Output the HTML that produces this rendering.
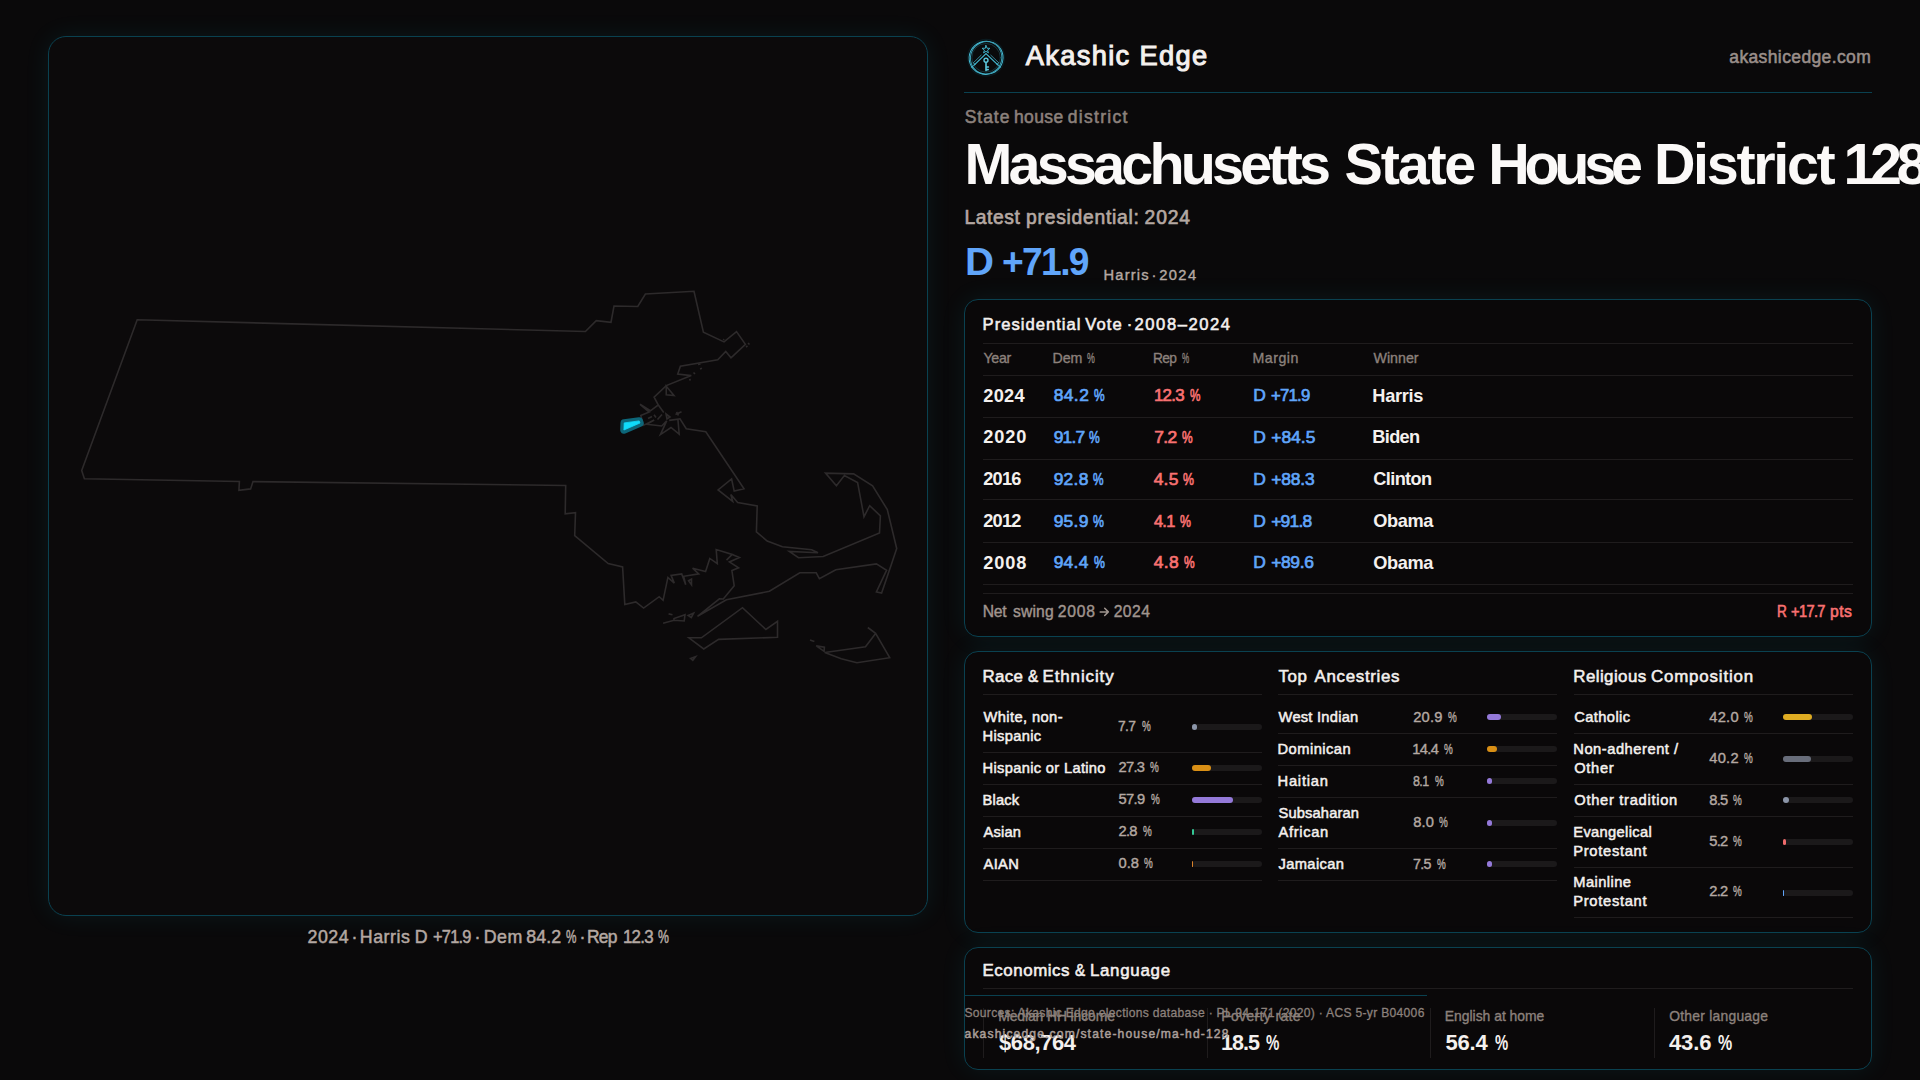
<!DOCTYPE html>
<html lang="en">
<head>
<meta charset="utf-8">
<title>Massachusetts State House District 128 · Akashic Edge</title>
<style>
*{box-sizing:border-box;margin:0;padding:0}
html,body{width:1920px;height:1080px;overflow:hidden;background:#0a090a}
body{position:relative;font-family:"Liberation Sans",sans-serif;color:#f4f0ee}
.t{position:absolute;white-space:nowrap;line-height:1;font-weight:400}
.box{position:absolute;border:1px solid #0a4150;background:#0a0809;box-shadow:0 0 26px rgba(34,211,238,.08)}
.mapbox{left:48px;top:36px;width:880px;height:880px;border-radius:18px;background:#0c0a0b}
.card{border-radius:14px}
.hl{position:absolute;height:1px;background:#1f1c1d}
.vl{position:absolute;width:1px;background:#1f1c1d}
.bar{position:absolute;height:6px;width:70px;border-radius:3px;background:#1b191a}
.bar i{position:absolute;left:0;top:0;height:6px;border-radius:3px;display:block}
svg{position:absolute;left:0;top:0;overflow:visible}
</style>
</head>
<body>

<!-- map panel -->
<div class="box mapbox"></div>
<svg width="1920" height="1080" viewBox="0 0 1920 1080" fill="none">
<g stroke="#2d2a2b" stroke-width="1.6" stroke-linejoin="miter" stroke-linecap="butt" fill="none">
<path d="M137.2,319.8 L585.4,331.5 L596.25,320.6 L611,322.25 L614,306 L637.75,306.5 L645.4,294 L694,291.25 L703.4,332.25 L724,341.9 L736.5,331.6 L745.4,344.4 L731,357.75 L725.75,351.5 L717.75,359.75 L680.4,366.25 L677.75,374 L691.25,375.6 L666.25,385.6 L654.1,397.25 L658.3,405 L650.4,410.8 L640,404.3 L649.2,412.1 L640.8,415.4 L641.8,419 L643.3,425.4 L654.2,420 L646.7,424.2 L661.7,426 L666.7,420.8 L660.4,434.6 L671,427.5 L679.2,434.2 L677.9,419.2 L669.2,420.4 L680,418.75 L686.25,428.75 L705.8,431.7 L744,488.8 L734.2,491.1 L731.6,479 L718.1,490 L732.7,501.4 L730.8,494.5 L737.7,502.6 L757.2,506 L756.4,531.9 L767.2,541 L782.4,546.8 L811.7,549.7 L818,552.8 L789.3,551.4 L798.5,557.7 L823.2,556.5 L879.5,533 L880.4,515.8 L869.7,505.7 L864,516.7 L857.6,482.5 L844.4,475.6 L836.4,485.7 L825.5,473.1 L853.6,473.9 L872.6,485.9 L887.3,509.5 L896.7,548.5 L891.25,564.7 L881.6,593.1 L876.4,592 L886.6,570.2 L876.4,563.9 L835.8,569.7 L819.4,578.75 L816.25,572.8 L799.8,572.8 L769.4,591.25 L726.4,599.8 L697.5,616.25 L719.4,598.75 L723.3,599 L734.2,585.8 L731.9,570.5 L738.6,567.8 L729.4,561.9 L739.4,557.5 L732.2,554.4 L726.5,560.1 L732.2,554.4 L716.2,549.5 L717.3,563.6 L709.8,558.4 L705.6,571.6 L692.6,568.2 L698.7,573.9 L683.6,576.3 L685.7,584.8 L681.7,573.9 L671.1,575.4 L674.3,583.1 L667.9,577.4 L663.1,600.3 L659.2,596.7 L643.6,608.1 L635.8,601.9 L624.8,604.5 L622.6,567 L608.2,563.6 L574.7,535.7 L575.5,512.7 L565.2,513.9 L565.7,485.5 L253,481.6 L250.6,488.9 L238.9,490.4 L239.4,481.5 L84.4,478.7 L81.7,470.4 Z"/>
<path d="M666.25,386.25 L674,395.6 L666.25,394.75 Z"/>
<path d="M658.3,405 L663.75,412.5"/>
<path d="M675.5,414.5 L681.5,411.8"/>
<path d="M676.5,412 L678.5,415.5"/>
<path d="M666,414 L670,417 L667,419 Z"/>
<path d="M657.5,419.5 L662,414.5"/>
<path d="M648,418.5 L652,416.5"/>
<path d="M654,414.8 L656,417.5"/>
<path d="M723.2,339.2 L724.2,340"/>
<path d="M748,343 L749.5,344.5"/>
<path d="M746,347 L747.5,346"/>
<path d="M698,364.5 L700.5,364"/>
<path d="M700,369 L702,368.3"/>
<path d="M693.5,372.5 L695,374"/>
<path d="M689.5,379 L690.5,380.5"/>
<path d="M688.6,580.8 L691.5,579.1 L691.5,584.8 Z"/>
<path d="M663.1,623.3 L674,620.2 L684.2,621 L685,614.7 L674,618.6 L674,620.2"/>
<path d="M688.1,615.5 L693.6,613.1 L691.25,617.5 Z"/>
<path d="M668.6,613.9 L672.5,614.7"/>
<path d="M688.9,637.8 L701.4,637.8 L742.5,607.7 L765.9,629.5 L777.5,621.25 L777.5,637.3 L718.6,639.4 L703.75,649 Z"/>
<path d="M690.5,658.4 L695.6,656.6 L692.8,660.3 Z"/>
<path d="M867.8,627.5 L875.6,633.4 L889.7,657.7 L856.9,662.8 L841.25,658.75 L824.8,652.5 L865.5,646.7 L875.6,633.4"/>
<path d="M816.25,645.9 L824.4,647.2 L824.1,651.4 Z"/>
<path d="M810,640 L814.4,641.6"/>
</g>
<path d="M624.2,422.9 L639.2,420.9 L640,423 L623.9,430 Z" fill="none" stroke="#0d6679" stroke-width="7.4" stroke-linejoin="round"/>
<path d="M624.2,422.9 L639.2,420.9 L640,423 L623.9,430 Z" fill="#10dbfa" stroke="#10dbfa" stroke-width="0.8" stroke-linejoin="round"/>

</svg>

<!-- header rule -->
<div style="position:absolute;left:964px;top:92px;width:908px;height:1px;background:#0a4150"></div>

<!-- cards -->
<div class="box card" style="left:964px;top:299px;width:908px;height:338px"></div>
<div class="box card" style="left:964px;top:651px;width:908px;height:282px"></div>
<div class="box card" style="left:964px;top:947px;width:908px;height:123px"></div>

<div class="hl" style="left:983px;top:343px;width:870px"></div>
<div class="hl" style="left:983px;top:375px;width:870px"></div>
<div class="hl" style="left:983px;top:417px;width:870px"></div>
<div class="hl" style="left:983px;top:459px;width:870px"></div>
<div class="hl" style="left:983px;top:499px;width:870px"></div>
<div class="hl" style="left:983px;top:542px;width:870px"></div>
<div class="hl" style="left:983px;top:584px;width:870px"></div>
<div class="hl" style="left:983px;top:593px;width:870px"></div>
<div class="hl" style="left:983px;top:694px;width:279.3px"></div>
<div class="hl" style="left:1278px;top:694px;width:279.3px"></div>
<div class="hl" style="left:1574px;top:694px;width:279.3px"></div>
<div class="hl" style="left:983px;top:752px;width:279.3px"></div>
<div class="hl" style="left:983px;top:784px;width:279.3px"></div>
<div class="hl" style="left:983px;top:816px;width:279.3px"></div>
<div class="hl" style="left:983px;top:848px;width:279.3px"></div>
<div class="hl" style="left:983px;top:880px;width:279.3px"></div>
<div class="hl" style="left:1278px;top:733px;width:279.3px"></div>
<div class="hl" style="left:1278px;top:765px;width:279.3px"></div>
<div class="hl" style="left:1278px;top:797px;width:279.3px"></div>
<div class="hl" style="left:1278px;top:848px;width:279.3px"></div>
<div class="hl" style="left:1278px;top:880px;width:279.3px"></div>
<div class="hl" style="left:1574px;top:733px;width:279.3px"></div>
<div class="hl" style="left:1574px;top:784px;width:279.3px"></div>
<div class="hl" style="left:1574px;top:816px;width:279.3px"></div>
<div class="hl" style="left:1574px;top:867px;width:279.3px"></div>
<div class="hl" style="left:1574px;top:917px;width:279.3px"></div>
<div class="hl" style="left:983px;top:988px;width:870px"></div>
<div class="vl" style="left:983px;top:1008px;height:50px"></div>
<div class="vl" style="left:1207px;top:1008px;height:50px"></div>
<div class="vl" style="left:1430px;top:1008px;height:50px"></div>
<div class="vl" style="left:1654px;top:1008px;height:50px"></div>

<div class="bar" style="left:1192px;top:723.9px"><i style="width:5.4px;background:#8b95a8"></i></div>
<div class="bar" style="left:1192px;top:764.9px"><i style="width:19.1px;background:#d98f15"></i></div>
<div class="bar" style="left:1192px;top:796.9px"><i style="width:40.5px;background:#9479d9"></i></div>
<div class="bar" style="left:1192px;top:828.9px"><i style="width:2.0px;background:#34c795"></i></div>
<div class="bar" style="left:1192px;top:860.9px"><i style="width:1.0px;background:#d9822b"></i></div>
<div class="bar" style="left:1486.7px;top:714.0px"><i style="width:14.6px;background:#9479d9"></i></div>
<div class="bar" style="left:1486.7px;top:746.0px"><i style="width:10.1px;background:#d98f15"></i></div>
<div class="bar" style="left:1486.7px;top:778.0px"><i style="width:5.7px;background:#9479d9"></i></div>
<div class="bar" style="left:1486.7px;top:819.5px"><i style="width:5.6px;background:#9479d9"></i></div>
<div class="bar" style="left:1486.7px;top:861.0px"><i style="width:5.2px;background:#9479d9"></i></div>
<div class="bar" style="left:1782.7px;top:714.0px"><i style="width:29.4px;background:#dfac22"></i></div>
<div class="bar" style="left:1782.7px;top:755.5px"><i style="width:28.1px;background:#686d7a"></i></div>
<div class="bar" style="left:1782.7px;top:797.0px"><i style="width:5.9px;background:#8b95a8"></i></div>
<div class="bar" style="left:1782.7px;top:838.5px"><i style="width:3.6px;background:#ef6b6b"></i></div>
<div class="bar" style="left:1782.7px;top:889.5px"><i style="width:1.5px;background:#60a5fa"></i></div>

<!-- footer rule (overlaps) -->
<div style="position:absolute;left:964px;top:995px;width:463px;height:1px;background:#0a4150"></div>

<!-- logo -->
<svg width="1920" height="1080" viewBox="0 0 1920 1080" fill="none">
<g stroke="#45bcd6" fill="none" stroke-linecap="round" stroke-linejoin="round">
<circle cx="986.1" cy="57.8" r="19" stroke="none" fill="#0c3a46" opacity="0.35"/>
<circle cx="986.1" cy="57.8" r="17.5" fill="#0a0a0b" stroke="none"/>
<ellipse cx="986.1" cy="57.8" rx="17" ry="16.6" stroke-width="0.95" transform="rotate(-20 986.1 57.8)"/>
<ellipse cx="986.1" cy="57.8" rx="15.6" ry="16.2" stroke-width="0.9" opacity="0.85" transform="rotate(25 986.1 57.8)"/>
<circle cx="986.1" cy="57.8" r="14.3" stroke-width="0.5" opacity="0.45"/>
<path d="M986.00,45.50 L987.00,48.22 L989.90,48.33 L987.62,50.13 L988.41,52.92 L986.00,51.30 L983.59,52.92 L984.38,50.13 L982.10,48.33 L985.00,48.22 Z" stroke-width="0.9"/>
<path d="M986,53.6 L974.4,64.9 M986,53.6 L997.8,64.9" stroke-width="1.15"/>
<path d="M981.2,55.2 L973.2,62.9 L975.4,64.2 M990.8,55.2 L998.9,62.9 L996.7,64.2" stroke-width="0.8" opacity="0.85"/>
<path d="M974.6,64.6 L971.6,67.4 M997.6,64.6 L1000.6,67.4" stroke-width="1.0" opacity="0.8"/>
<circle cx="986" cy="60.3" r="2.0" stroke-width="1.4" stroke="#5cc8de"/>
<path d="M986,62.8 L986,70.6 M986,67 L988.4,67 M986,69.6 L988.2,69.6" stroke-width="1.6" stroke="#5cc8de"/>
</g>
</svg>

<svg width="1920" height="1080" viewBox="0 0 1920 1080" fill="none"><path d="M1100.2,611.9 H1108 M1104.7,608.3 L1108.3,611.9 L1104.7,615.5" stroke="#a0958f" stroke-width="1.5" stroke-linecap="round" stroke-linejoin="round"/></svg>
<span class="t" style="left:1025.70px;top:40px;line-height:31px;font-size:27.3px;color:#f4f0ee;letter-spacing:1.333px;-webkit-text-stroke:1.0px #f4f0ee;">Akashic Edge</span>
<span class="t" style="left:1729.28px;top:47px;line-height:20px;font-size:17.5px;color:#9a8f8a;letter-spacing:0.381px;-webkit-text-stroke:0.55px #9a8f8a;">akashicedge.com</span>
<span class="t" style="left:964.67px;top:107px;line-height:20px;font-size:17.5px;color:#8c817c;letter-spacing:0.980px;-webkit-text-stroke:0.55px #8c817c;">State</span>
<span class="t" style="left:1014.02px;top:107px;line-height:20px;font-size:17.5px;color:#8c817c;letter-spacing:0.376px;-webkit-text-stroke:0.55px #8c817c;">house</span>
<span class="t" style="left:1067.78px;top:107px;line-height:20px;font-size:17.5px;color:#8c817c;letter-spacing:1.286px;-webkit-text-stroke:0.55px #8c817c;">district</span>
<span class="t" style="left:964.50px;top:132px;line-height:64px;font-size:57.5px;color:#fbf9f8;font-weight:700;letter-spacing:-3.816px;">Massachusetts</span>
<span class="t" style="left:1344.60px;top:132px;line-height:64px;font-size:57.5px;color:#fbf9f8;font-weight:700;letter-spacing:-2.232px;">State</span>
<span class="t" style="left:1488.25px;top:132px;line-height:64px;font-size:57.5px;color:#fbf9f8;font-weight:700;letter-spacing:-5.275px;">House</span>
<span class="t" style="left:1653.90px;top:132px;line-height:64px;font-size:57.5px;color:#fbf9f8;font-weight:700;letter-spacing:-2.323px;">District</span>
<span class="t" style="left:1843.50px;top:132px;line-height:64px;font-size:57.5px;color:#fbf9f8;font-weight:700;letter-spacing:-5.479px;">128</span>
<span class="t" style="left:964.53px;top:207px;line-height:21px;font-size:19.3px;color:#b4a8a2;letter-spacing:0.576px;-webkit-text-stroke:0.65px #b4a8a2;">Latest</span>
<span class="t" style="left:1026.12px;top:207px;line-height:21px;font-size:19.3px;color:#b4a8a2;letter-spacing:0.728px;-webkit-text-stroke:0.65px #b4a8a2;">presidential:</span>
<span class="t" style="left:1144.62px;top:207px;line-height:21px;font-size:19.3px;color:#b4a8a2;letter-spacing:0.827px;-webkit-text-stroke:0.65px #b4a8a2;">2024</span>
<span class="t" style="left:964.84px;top:240px;line-height:43px;font-size:39.0px;color:#60a5fa;font-weight:700;transform:scaleX(1.028);transform-origin:0 0;">D</span>
<span class="t" style="left:1002.15px;top:240px;line-height:43px;font-size:39.0px;color:#60a5fa;font-weight:700;letter-spacing:-1.755px;transform:scaleX(0.955);transform-origin:0 0;">+71.9</span>
<span class="t" style="left:1103.60px;top:267px;line-height:16px;font-size:14.7px;color:#b4a8a2;letter-spacing:1.156px;-webkit-text-stroke:0.4px #b4a8a2;">Harris</span>
<span class="t" style="left:1151.40px;top:267px;line-height:16px;font-size:14.7px;color:#b4a8a2;-webkit-text-stroke:0.4px #b4a8a2;">·</span>
<span class="t" style="left:1159.30px;top:267px;line-height:16px;font-size:14.7px;color:#b4a8a2;letter-spacing:1.365px;-webkit-text-stroke:0.4px #b4a8a2;">2024</span>
<span class="t" style="left:307.55px;top:927px;line-height:20px;font-size:17.8px;color:#b4a8a2;letter-spacing:0.478px;-webkit-text-stroke:0.5px #b4a8a2;">2024</span>
<span class="t" style="left:351.40px;top:927px;line-height:20px;font-size:17.8px;color:#b4a8a2;-webkit-text-stroke:0.5px #b4a8a2;">·</span>
<span class="t" style="left:359.75px;top:927px;line-height:20px;font-size:17.8px;color:#b4a8a2;letter-spacing:0.535px;-webkit-text-stroke:0.5px #b4a8a2;">Harris</span>
<span class="t" style="left:414.86px;top:927px;line-height:20px;font-size:17.8px;color:#b4a8a2;-webkit-text-stroke:0.5px #b4a8a2;">D</span>
<span class="t" style="left:433.33px;top:927px;line-height:20px;font-size:17.8px;color:#b4a8a2;letter-spacing:-0.801px;-webkit-text-stroke:0.5px #b4a8a2;transform:scaleX(0.920);transform-origin:0 0;">+71.9</span>
<span class="t" style="left:474.50px;top:927px;line-height:20px;font-size:17.8px;color:#b4a8a2;-webkit-text-stroke:0.5px #b4a8a2;">·</span>
<span class="t" style="left:483.75px;top:927px;line-height:20px;font-size:17.8px;color:#b4a8a2;letter-spacing:0.485px;-webkit-text-stroke:0.5px #b4a8a2;">Dem</span>
<span class="t" style="left:526.35px;top:927px;line-height:20px;font-size:17.8px;color:#b4a8a2;letter-spacing:0.061px;-webkit-text-stroke:0.5px #b4a8a2;">84.2</span>
<span class="t" style="left:565.67px;top:927px;line-height:20px;font-size:17.8px;color:#b4a8a2;-webkit-text-stroke:0.5px #b4a8a2;transform:scaleX(0.661);transform-origin:0 0;">%</span>
<span class="t" style="left:579.60px;top:927px;line-height:20px;font-size:17.8px;color:#b4a8a2;-webkit-text-stroke:0.5px #b4a8a2;">·</span>
<span class="t" style="left:587.27px;top:927px;line-height:20px;font-size:17.8px;color:#b4a8a2;letter-spacing:-0.801px;-webkit-text-stroke:0.5px #b4a8a2;transform:scaleX(0.979);transform-origin:0 0;">Rep</span>
<span class="t" style="left:622.79px;top:927px;line-height:20px;font-size:17.8px;color:#b4a8a2;letter-spacing:-0.801px;-webkit-text-stroke:0.5px #b4a8a2;transform:scaleX(0.949);transform-origin:0 0;">12.3</span>
<span class="t" style="left:658.17px;top:927px;line-height:20px;font-size:17.8px;color:#b4a8a2;-webkit-text-stroke:0.5px #b4a8a2;transform:scaleX(0.691);transform-origin:0 0;">%</span>
<span class="t" style="left:982.57px;top:315px;line-height:19px;font-size:16.6px;color:#f4f0ee;letter-spacing:1.012px;-webkit-text-stroke:0.55px #f4f0ee;">Presidential</span>
<span class="t" style="left:1085.28px;top:315px;line-height:19px;font-size:16.6px;color:#f4f0ee;letter-spacing:1.053px;-webkit-text-stroke:0.55px #f4f0ee;">Vote</span>
<span class="t" style="left:1126.80px;top:315px;line-height:19px;font-size:16.6px;color:#f4f0ee;-webkit-text-stroke:0.55px #f4f0ee;">·</span>
<span class="t" style="left:1134.58px;top:315px;line-height:19px;font-size:16.6px;color:#f4f0ee;letter-spacing:1.540px;-webkit-text-stroke:0.55px #f4f0ee;">2008–2024</span>
<span class="t" style="left:983.47px;top:350px;line-height:16px;font-size:14.2px;color:#8c817c;letter-spacing:-0.297px;-webkit-text-stroke:0.35px #8c817c;">Year</span>
<span class="t" style="left:1052.47px;top:350px;line-height:16px;font-size:14.2px;color:#8c817c;letter-spacing:-0.043px;-webkit-text-stroke:0.35px #8c817c;">Dem</span>
<span class="t" style="left:1086.81px;top:350px;line-height:16px;font-size:14.2px;color:#8c817c;-webkit-text-stroke:0.35px #8c817c;transform:scaleX(0.622);transform-origin:0 0;">%</span>
<span class="t" style="left:1152.50px;top:350px;line-height:16px;font-size:14.2px;color:#8c817c;letter-spacing:-0.639px;-webkit-text-stroke:0.35px #8c817c;transform:scaleX(0.967);transform-origin:0 0;">Rep</span>
<span class="t" style="left:1181.80px;top:350px;line-height:16px;font-size:14.2px;color:#8c817c;-webkit-text-stroke:0.35px #8c817c;transform:scaleX(0.569);transform-origin:0 0;">%</span>
<span class="t" style="left:1252.47px;top:350px;line-height:16px;font-size:14.2px;color:#8c817c;letter-spacing:0.515px;-webkit-text-stroke:0.35px #8c817c;">Margin</span>
<span class="t" style="left:1373.47px;top:350px;line-height:16px;font-size:14.2px;color:#8c817c;letter-spacing:0.027px;-webkit-text-stroke:0.35px #8c817c;">Winner</span>
<span class="t" style="left:983.30px;top:386px;line-height:20px;font-size:18.2px;color:#f4f0ee;font-weight:700;letter-spacing:0.252px;">2024</span>
<span class="t" style="left:1053.65px;top:385px;line-height:20px;font-size:17.4px;color:#60a5fa;letter-spacing:0.442px;-webkit-text-stroke:0.7px #60a5fa;">84.2</span>
<span class="t" style="left:1093.74px;top:385px;line-height:20px;font-size:17.4px;color:#60a5fa;-webkit-text-stroke:0.7px #60a5fa;transform:scaleX(0.688);transform-origin:0 0;">%</span>
<span class="t" style="left:1153.67px;top:385px;line-height:20px;font-size:17.4px;color:#f87171;letter-spacing:-0.783px;-webkit-text-stroke:0.7px #f87171;transform:scaleX(0.970);transform-origin:0 0;">12.3</span>
<span class="t" style="left:1189.64px;top:385px;line-height:20px;font-size:17.4px;color:#f87171;-webkit-text-stroke:0.7px #f87171;transform:scaleX(0.675);transform-origin:0 0;">%</span>
<span class="t" style="left:1253.24px;top:385px;line-height:20px;font-size:17.4px;color:#60a5fa;-webkit-text-stroke:0.7px #60a5fa;">D</span>
<span class="t" style="left:1271.24px;top:385px;line-height:20px;font-size:17.4px;color:#60a5fa;letter-spacing:-0.783px;-webkit-text-stroke:0.7px #60a5fa;transform:scaleX(0.961);transform-origin:0 0;">+71.9</span>
<span class="t" style="left:1372.30px;top:386px;line-height:20px;font-size:18.2px;color:#f4f0ee;font-weight:700;letter-spacing:-0.292px;">Harris</span>
<span class="t" style="left:983.30px;top:427px;line-height:20px;font-size:18.2px;color:#f4f0ee;font-weight:700;letter-spacing:0.885px;">2020</span>
<span class="t" style="left:1053.64px;top:427px;line-height:20px;font-size:17.4px;color:#60a5fa;letter-spacing:-0.783px;-webkit-text-stroke:0.7px #60a5fa;">91.7</span>
<span class="t" style="left:1089.34px;top:427px;line-height:20px;font-size:17.4px;color:#60a5fa;-webkit-text-stroke:0.7px #60a5fa;transform:scaleX(0.694);transform-origin:0 0;">%</span>
<span class="t" style="left:1154.25px;top:427px;line-height:20px;font-size:17.4px;color:#f87171;letter-spacing:-0.602px;-webkit-text-stroke:0.7px #f87171;">7.2</span>
<span class="t" style="left:1182.24px;top:427px;line-height:20px;font-size:17.4px;color:#f87171;-webkit-text-stroke:0.7px #f87171;transform:scaleX(0.688);transform-origin:0 0;">%</span>
<span class="t" style="left:1253.24px;top:427px;line-height:20px;font-size:17.4px;color:#60a5fa;-webkit-text-stroke:0.7px #60a5fa;">D</span>
<span class="t" style="left:1271.25px;top:427px;line-height:20px;font-size:17.4px;color:#60a5fa;letter-spacing:0.017px;-webkit-text-stroke:0.7px #60a5fa;">+84.5</span>
<span class="t" style="left:1372.30px;top:427px;line-height:20px;font-size:18.2px;color:#f4f0ee;font-weight:700;letter-spacing:-0.678px;">Biden</span>
<span class="t" style="left:983.30px;top:469px;line-height:20px;font-size:18.2px;color:#f4f0ee;font-weight:700;letter-spacing:-0.819px;">2016</span>
<span class="t" style="left:1053.65px;top:469px;line-height:20px;font-size:17.4px;color:#60a5fa;letter-spacing:0.275px;-webkit-text-stroke:0.7px #60a5fa;">92.8</span>
<span class="t" style="left:1093.04px;top:469px;line-height:20px;font-size:17.4px;color:#60a5fa;-webkit-text-stroke:0.7px #60a5fa;transform:scaleX(0.682);transform-origin:0 0;">%</span>
<span class="t" style="left:1153.65px;top:469px;line-height:20px;font-size:17.4px;color:#f87171;letter-spacing:0.248px;-webkit-text-stroke:0.7px #f87171;">4.5</span>
<span class="t" style="left:1183.25px;top:469px;line-height:20px;font-size:17.4px;color:#f87171;-webkit-text-stroke:0.7px #f87171;transform:scaleX(0.707);transform-origin:0 0;">%</span>
<span class="t" style="left:1253.24px;top:469px;line-height:20px;font-size:17.4px;color:#60a5fa;-webkit-text-stroke:0.7px #60a5fa;">D</span>
<span class="t" style="left:1271.25px;top:469px;line-height:20px;font-size:17.4px;color:#60a5fa;letter-spacing:-0.133px;-webkit-text-stroke:0.7px #60a5fa;">+88.3</span>
<span class="t" style="left:1373.30px;top:469px;line-height:20px;font-size:18.2px;color:#f4f0ee;font-weight:700;letter-spacing:-0.636px;">Clinton</span>
<span class="t" style="left:983.30px;top:511px;line-height:20px;font-size:18.2px;color:#f4f0ee;font-weight:700;letter-spacing:-0.819px;">2012</span>
<span class="t" style="left:1053.65px;top:511px;line-height:20px;font-size:17.4px;color:#60a5fa;letter-spacing:0.275px;-webkit-text-stroke:0.7px #60a5fa;">95.9</span>
<span class="t" style="left:1093.05px;top:511px;line-height:20px;font-size:17.4px;color:#60a5fa;-webkit-text-stroke:0.7px #60a5fa;transform:scaleX(0.707);transform-origin:0 0;">%</span>
<span class="t" style="left:1153.63px;top:511px;line-height:20px;font-size:17.4px;color:#f87171;letter-spacing:-0.783px;-webkit-text-stroke:0.7px #f87171;transform:scaleX(0.941);transform-origin:0 0;">4.1</span>
<span class="t" style="left:1180.05px;top:511px;line-height:20px;font-size:17.4px;color:#f87171;-webkit-text-stroke:0.7px #f87171;transform:scaleX(0.707);transform-origin:0 0;">%</span>
<span class="t" style="left:1253.24px;top:511px;line-height:20px;font-size:17.4px;color:#60a5fa;-webkit-text-stroke:0.7px #60a5fa;">D</span>
<span class="t" style="left:1271.25px;top:511px;line-height:20px;font-size:17.4px;color:#60a5fa;letter-spacing:-0.783px;-webkit-text-stroke:0.7px #60a5fa;">+91.8</span>
<span class="t" style="left:1373.30px;top:511px;line-height:20px;font-size:18.2px;color:#f4f0ee;font-weight:700;letter-spacing:-0.386px;">Obama</span>
<span class="t" style="left:983.30px;top:553px;line-height:20px;font-size:18.2px;color:#f4f0ee;font-weight:700;letter-spacing:0.885px;">2008</span>
<span class="t" style="left:1053.65px;top:552px;line-height:20px;font-size:17.4px;color:#60a5fa;letter-spacing:0.308px;-webkit-text-stroke:0.7px #60a5fa;">94.4</span>
<span class="t" style="left:1094.35px;top:552px;line-height:20px;font-size:17.4px;color:#60a5fa;-webkit-text-stroke:0.7px #60a5fa;transform:scaleX(0.707);transform-origin:0 0;">%</span>
<span class="t" style="left:1153.65px;top:552px;line-height:20px;font-size:17.4px;color:#f87171;letter-spacing:0.398px;-webkit-text-stroke:0.7px #f87171;">4.8</span>
<span class="t" style="left:1183.54px;top:552px;line-height:20px;font-size:17.4px;color:#f87171;-webkit-text-stroke:0.7px #f87171;transform:scaleX(0.688);transform-origin:0 0;">%</span>
<span class="t" style="left:1253.24px;top:552px;line-height:20px;font-size:17.4px;color:#60a5fa;-webkit-text-stroke:0.7px #60a5fa;">D</span>
<span class="t" style="left:1271.25px;top:552px;line-height:20px;font-size:17.4px;color:#60a5fa;letter-spacing:-0.358px;-webkit-text-stroke:0.7px #60a5fa;">+89.6</span>
<span class="t" style="left:1373.30px;top:553px;line-height:20px;font-size:18.2px;color:#f4f0ee;font-weight:700;letter-spacing:-0.386px;">Obama</span>
<span class="t" style="left:982.70px;top:603px;line-height:17px;font-size:15.7px;color:#a0958f;letter-spacing:-0.227px;-webkit-text-stroke:0.4px #a0958f;">Net</span>
<span class="t" style="left:1013.10px;top:603px;line-height:17px;font-size:15.7px;color:#a0958f;letter-spacing:0.104px;-webkit-text-stroke:0.4px #a0958f;">swing</span>
<span class="t" style="left:1057.70px;top:603px;line-height:17px;font-size:15.7px;color:#a0958f;letter-spacing:0.775px;-webkit-text-stroke:0.4px #a0958f;">2008</span>
<span class="t" style="left:1113.70px;top:603px;line-height:17px;font-size:15.7px;color:#a0958f;letter-spacing:0.442px;-webkit-text-stroke:0.4px #a0958f;">2024</span>
<span class="t" style="left:1776.89px;top:603px;line-height:17px;font-size:15.7px;color:#f87171;-webkit-text-stroke:0.6px #f87171;transform:scaleX(0.868);transform-origin:0 0;">R</span>
<span class="t" style="left:1790.98px;top:603px;line-height:17px;font-size:15.7px;color:#f87171;letter-spacing:-0.706px;-webkit-text-stroke:0.6px #f87171;transform:scaleX(0.934);transform-origin:0 0;">+17.7</span>
<span class="t" style="left:1830.00px;top:603px;line-height:17px;font-size:15.7px;color:#f87171;letter-spacing:0.458px;-webkit-text-stroke:0.6px #f87171;">pts</span>
<span class="t" style="left:982.57px;top:667px;line-height:19px;font-size:16.9px;color:#f4f0ee;letter-spacing:0.271px;-webkit-text-stroke:0.55px #f4f0ee;">Race</span>
<span class="t" style="left:1028.05px;top:667px;line-height:19px;font-size:16.9px;color:#f4f0ee;-webkit-text-stroke:0.55px #f4f0ee;transform:scaleX(0.900);transform-origin:0 0;">&amp;</span>
<span class="t" style="left:1042.58px;top:667px;line-height:19px;font-size:16.9px;color:#f4f0ee;letter-spacing:0.895px;-webkit-text-stroke:0.55px #f4f0ee;">Ethnicity</span>
<span class="t" style="left:1278.58px;top:667px;line-height:19px;font-size:16.9px;color:#f4f0ee;letter-spacing:0.506px;-webkit-text-stroke:0.55px #f4f0ee;">Top</span>
<span class="t" style="left:1314.58px;top:667px;line-height:19px;font-size:16.9px;color:#f4f0ee;letter-spacing:0.671px;-webkit-text-stroke:0.55px #f4f0ee;">Ancestries</span>
<span class="t" style="left:1573.28px;top:667px;line-height:19px;font-size:16.9px;color:#f4f0ee;letter-spacing:0.427px;-webkit-text-stroke:0.55px #f4f0ee;">Religious</span>
<span class="t" style="left:1650.98px;top:667px;line-height:19px;font-size:16.9px;color:#f4f0ee;letter-spacing:0.826px;-webkit-text-stroke:0.55px #f4f0ee;">Composition</span>
<span class="t" style="left:983.55px;top:709px;line-height:16px;font-size:14.7px;color:#f4f0ee;letter-spacing:0.389px;-webkit-text-stroke:0.5px #f4f0ee;">White, non-</span>
<span class="t" style="left:982.55px;top:728px;line-height:16px;font-size:14.7px;color:#f4f0ee;letter-spacing:0.317px;-webkit-text-stroke:0.5px #f4f0ee;">Hispanic</span>
<span class="t" style="left:982.55px;top:760px;line-height:16px;font-size:14.7px;color:#f4f0ee;letter-spacing:0.318px;-webkit-text-stroke:0.5px #f4f0ee;">Hispanic or Latino</span>
<span class="t" style="left:982.55px;top:792px;line-height:16px;font-size:14.7px;color:#f4f0ee;letter-spacing:0.157px;-webkit-text-stroke:0.5px #f4f0ee;">Black</span>
<span class="t" style="left:983.55px;top:824px;line-height:16px;font-size:14.7px;color:#f4f0ee;letter-spacing:0.157px;-webkit-text-stroke:0.5px #f4f0ee;">Asian</span>
<span class="t" style="left:983.55px;top:856px;line-height:16px;font-size:14.7px;color:#f4f0ee;letter-spacing:0.309px;-webkit-text-stroke:0.5px #f4f0ee;">AIAN</span>
<span class="t" style="left:1278.55px;top:709px;line-height:16px;font-size:14.7px;color:#f4f0ee;letter-spacing:0.238px;-webkit-text-stroke:0.5px #f4f0ee;">West Indian</span>
<span class="t" style="left:1277.55px;top:741px;line-height:16px;font-size:14.7px;color:#f4f0ee;letter-spacing:0.460px;-webkit-text-stroke:0.5px #f4f0ee;">Dominican</span>
<span class="t" style="left:1277.55px;top:773px;line-height:16px;font-size:14.7px;color:#f4f0ee;letter-spacing:0.775px;-webkit-text-stroke:0.5px #f4f0ee;">Haitian</span>
<span class="t" style="left:1278.55px;top:805px;line-height:16px;font-size:14.7px;color:#f4f0ee;letter-spacing:0.129px;-webkit-text-stroke:0.5px #f4f0ee;">Subsaharan</span>
<span class="t" style="left:1278.55px;top:824px;line-height:16px;font-size:14.7px;color:#f4f0ee;letter-spacing:0.659px;-webkit-text-stroke:0.5px #f4f0ee;">African</span>
<span class="t" style="left:1278.55px;top:856px;line-height:16px;font-size:14.7px;color:#f4f0ee;letter-spacing:0.358px;-webkit-text-stroke:0.5px #f4f0ee;">Jamaican</span>
<span class="t" style="left:1574.25px;top:709px;line-height:16px;font-size:14.7px;color:#f4f0ee;letter-spacing:0.397px;-webkit-text-stroke:0.5px #f4f0ee;">Catholic</span>
<span class="t" style="left:1573.25px;top:741px;line-height:16px;font-size:14.7px;color:#f4f0ee;letter-spacing:0.531px;-webkit-text-stroke:0.5px #f4f0ee;">Non-adherent /</span>
<span class="t" style="left:1574.25px;top:760px;line-height:16px;font-size:14.7px;color:#f4f0ee;letter-spacing:0.664px;-webkit-text-stroke:0.5px #f4f0ee;">Other</span>
<span class="t" style="left:1574.25px;top:792px;line-height:16px;font-size:14.7px;color:#f4f0ee;letter-spacing:0.707px;-webkit-text-stroke:0.5px #f4f0ee;">Other tradition</span>
<span class="t" style="left:1573.25px;top:824px;line-height:16px;font-size:14.7px;color:#f4f0ee;letter-spacing:0.335px;-webkit-text-stroke:0.5px #f4f0ee;">Evangelical</span>
<span class="t" style="left:1573.25px;top:843px;line-height:16px;font-size:14.7px;color:#f4f0ee;letter-spacing:0.704px;-webkit-text-stroke:0.5px #f4f0ee;">Protestant</span>
<span class="t" style="left:1573.25px;top:874px;line-height:16px;font-size:14.7px;color:#f4f0ee;letter-spacing:0.424px;-webkit-text-stroke:0.5px #f4f0ee;">Mainline</span>
<span class="t" style="left:1573.25px;top:893px;line-height:16px;font-size:14.7px;color:#f4f0ee;letter-spacing:0.704px;-webkit-text-stroke:0.5px #f4f0ee;">Protestant</span>
<span class="t" style="left:1118.39px;top:718px;line-height:16px;font-size:14.7px;color:#b4a8a2;letter-spacing:-0.661px;-webkit-text-stroke:0.4px #b4a8a2;transform:scaleX(0.942);transform-origin:0 0;">7.7</span>
<span class="t" style="left:1141.83px;top:718px;line-height:16px;font-size:14.7px;color:#b4a8a2;-webkit-text-stroke:0.4px #b4a8a2;transform:scaleX(0.672);transform-origin:0 0;">%</span>
<span class="t" style="left:1118.40px;top:759px;line-height:16px;font-size:14.7px;color:#b4a8a2;letter-spacing:-0.661px;-webkit-text-stroke:0.4px #b4a8a2;">27.3</span>
<span class="t" style="left:1150.43px;top:759px;line-height:16px;font-size:14.7px;color:#b4a8a2;-webkit-text-stroke:0.4px #b4a8a2;transform:scaleX(0.672);transform-origin:0 0;">%</span>
<span class="t" style="left:1118.40px;top:791px;line-height:16px;font-size:14.7px;color:#b4a8a2;letter-spacing:-0.573px;-webkit-text-stroke:0.4px #b4a8a2;">57.9</span>
<span class="t" style="left:1150.73px;top:791px;line-height:16px;font-size:14.7px;color:#b4a8a2;-webkit-text-stroke:0.4px #b4a8a2;transform:scaleX(0.672);transform-origin:0 0;">%</span>
<span class="t" style="left:1118.40px;top:823px;line-height:16px;font-size:14.7px;color:#b4a8a2;letter-spacing:-0.661px;-webkit-text-stroke:0.4px #b4a8a2;">2.8</span>
<span class="t" style="left:1142.93px;top:823px;line-height:16px;font-size:14.7px;color:#b4a8a2;-webkit-text-stroke:0.4px #b4a8a2;transform:scaleX(0.672);transform-origin:0 0;">%</span>
<span class="t" style="left:1118.40px;top:855px;line-height:16px;font-size:14.7px;color:#b4a8a2;letter-spacing:0.075px;-webkit-text-stroke:0.4px #b4a8a2;">0.8</span>
<span class="t" style="left:1144.43px;top:855px;line-height:16px;font-size:14.7px;color:#b4a8a2;-webkit-text-stroke:0.4px #b4a8a2;transform:scaleX(0.672);transform-origin:0 0;">%</span>
<span class="t" style="left:1413.20px;top:709px;line-height:16px;font-size:14.7px;color:#b4a8a2;letter-spacing:0.194px;-webkit-text-stroke:0.4px #b4a8a2;">20.9</span>
<span class="t" style="left:1447.83px;top:709px;line-height:16px;font-size:14.7px;color:#b4a8a2;-webkit-text-stroke:0.4px #b4a8a2;transform:scaleX(0.672);transform-origin:0 0;">%</span>
<span class="t" style="left:1412.20px;top:741px;line-height:16px;font-size:14.7px;color:#b4a8a2;letter-spacing:-0.606px;-webkit-text-stroke:0.4px #b4a8a2;">14.4</span>
<span class="t" style="left:1444.43px;top:741px;line-height:16px;font-size:14.7px;color:#b4a8a2;-webkit-text-stroke:0.4px #b4a8a2;transform:scaleX(0.672);transform-origin:0 0;">%</span>
<span class="t" style="left:1413.17px;top:773px;line-height:16px;font-size:14.7px;color:#b4a8a2;letter-spacing:-0.661px;-webkit-text-stroke:0.4px #b4a8a2;transform:scaleX(0.849);transform-origin:0 0;">8.1</span>
<span class="t" style="left:1434.83px;top:773px;line-height:16px;font-size:14.7px;color:#b4a8a2;-webkit-text-stroke:0.4px #b4a8a2;transform:scaleX(0.672);transform-origin:0 0;">%</span>
<span class="t" style="left:1413.20px;top:814px;line-height:16px;font-size:14.7px;color:#b4a8a2;letter-spacing:0.175px;-webkit-text-stroke:0.4px #b4a8a2;">8.0</span>
<span class="t" style="left:1439.43px;top:814px;line-height:16px;font-size:14.7px;color:#b4a8a2;-webkit-text-stroke:0.4px #b4a8a2;transform:scaleX(0.672);transform-origin:0 0;">%</span>
<span class="t" style="left:1413.19px;top:856px;line-height:16px;font-size:14.7px;color:#b4a8a2;letter-spacing:-0.661px;-webkit-text-stroke:0.4px #b4a8a2;transform:scaleX(0.968);transform-origin:0 0;">7.5</span>
<span class="t" style="left:1437.13px;top:856px;line-height:16px;font-size:14.7px;color:#b4a8a2;-webkit-text-stroke:0.4px #b4a8a2;transform:scaleX(0.672);transform-origin:0 0;">%</span>
<span class="t" style="left:1709.20px;top:709px;line-height:16px;font-size:14.7px;color:#b4a8a2;letter-spacing:0.294px;-webkit-text-stroke:0.4px #b4a8a2;">42.0</span>
<span class="t" style="left:1744.13px;top:709px;line-height:16px;font-size:14.7px;color:#b4a8a2;-webkit-text-stroke:0.4px #b4a8a2;transform:scaleX(0.672);transform-origin:0 0;">%</span>
<span class="t" style="left:1709.20px;top:750px;line-height:16px;font-size:14.7px;color:#b4a8a2;letter-spacing:0.294px;-webkit-text-stroke:0.4px #b4a8a2;">40.2</span>
<span class="t" style="left:1744.13px;top:750px;line-height:16px;font-size:14.7px;color:#b4a8a2;-webkit-text-stroke:0.4px #b4a8a2;transform:scaleX(0.672);transform-origin:0 0;">%</span>
<span class="t" style="left:1709.20px;top:792px;line-height:16px;font-size:14.7px;color:#b4a8a2;letter-spacing:-0.661px;-webkit-text-stroke:0.4px #b4a8a2;">8.5</span>
<span class="t" style="left:1733.43px;top:792px;line-height:16px;font-size:14.7px;color:#b4a8a2;-webkit-text-stroke:0.4px #b4a8a2;transform:scaleX(0.672);transform-origin:0 0;">%</span>
<span class="t" style="left:1709.20px;top:833px;line-height:16px;font-size:14.7px;color:#b4a8a2;letter-spacing:-0.661px;-webkit-text-stroke:0.4px #b4a8a2;">5.2</span>
<span class="t" style="left:1733.43px;top:833px;line-height:16px;font-size:14.7px;color:#b4a8a2;-webkit-text-stroke:0.4px #b4a8a2;transform:scaleX(0.672);transform-origin:0 0;">%</span>
<span class="t" style="left:1709.20px;top:883px;line-height:16px;font-size:14.7px;color:#b4a8a2;letter-spacing:-0.661px;-webkit-text-stroke:0.4px #b4a8a2;">2.2</span>
<span class="t" style="left:1733.43px;top:883px;line-height:16px;font-size:14.7px;color:#b4a8a2;-webkit-text-stroke:0.4px #b4a8a2;transform:scaleX(0.672);transform-origin:0 0;">%</span>
<span class="t" style="left:982.57px;top:961px;line-height:19px;font-size:16.9px;color:#f4f0ee;letter-spacing:0.536px;-webkit-text-stroke:0.55px #f4f0ee;">Economics</span>
<span class="t" style="left:1074.75px;top:961px;line-height:19px;font-size:16.9px;color:#f4f0ee;-webkit-text-stroke:0.55px #f4f0ee;transform:scaleX(0.900);transform-origin:0 0;">&amp;</span>
<span class="t" style="left:1089.88px;top:961px;line-height:19px;font-size:16.9px;color:#f4f0ee;letter-spacing:0.728px;-webkit-text-stroke:0.55px #f4f0ee;">Language</span>
<span class="t" style="left:998.17px;top:1008px;line-height:16px;font-size:13.9px;color:#8c817c;letter-spacing:-0.090px;-webkit-text-stroke:0.35px #8c817c;">Median HH income</span>
<span class="t" style="left:999.00px;top:1030px;line-height:25px;font-size:22px;color:#f4f0ee;font-weight:700;letter-spacing:-0.415px;">$68,764</span>
<span class="t" style="left:1221.27px;top:1008px;line-height:16px;font-size:13.9px;color:#8c817c;letter-spacing:0.399px;-webkit-text-stroke:0.35px #8c817c;">Poverty rate</span>
<span class="t" style="left:1221.12px;top:1030px;line-height:25px;font-size:22px;color:#f4f0ee;font-weight:700;letter-spacing:-0.990px;transform:scaleX(0.979);transform-origin:0 0;">18.5</span>
<span class="t" style="left:1266.40px;top:1030px;line-height:25px;font-size:22px;color:#f4f0ee;font-weight:700;transform:scaleX(0.684);transform-origin:0 0;">%</span>
<span class="t" style="left:1444.77px;top:1008px;line-height:16px;font-size:13.9px;color:#8c817c;letter-spacing:-0.002px;-webkit-text-stroke:0.35px #8c817c;">English at home</span>
<span class="t" style="left:1445.60px;top:1030px;line-height:25px;font-size:22px;color:#f4f0ee;font-weight:700;letter-spacing:-0.228px;">56.4</span>
<span class="t" style="left:1495.00px;top:1030px;line-height:25px;font-size:22px;color:#f4f0ee;font-weight:700;transform:scaleX(0.674);transform-origin:0 0;">%</span>
<span class="t" style="left:1669.17px;top:1008px;line-height:16px;font-size:13.9px;color:#8c817c;letter-spacing:0.239px;-webkit-text-stroke:0.35px #8c817c;">Other language</span>
<span class="t" style="left:1669.00px;top:1030px;line-height:25px;font-size:22px;color:#f4f0ee;font-weight:700;letter-spacing:-0.128px;">43.6</span>
<span class="t" style="left:1718.20px;top:1030px;line-height:25px;font-size:22px;color:#f4f0ee;font-weight:700;transform:scaleX(0.726);transform-origin:0 0;">%</span>
<span class="t" style="left:964.45px;top:1006px;line-height:14px;font-size:12.1px;color:#8c817c;letter-spacing:0.299px;-webkit-text-stroke:0.3px #8c817c;">Sources: Akashic Edge elections database · PL 94-171 (2020) · ACS 5-yr B04006</span>
<span class="t" style="left:964.55px;top:1027px;line-height:14px;font-size:12.1px;color:#a99e99;letter-spacing:1.150px;-webkit-text-stroke:0.5px #a99e99;">akashicedge.com/state-house/ma-hd-128</span>
</body>
</html>
